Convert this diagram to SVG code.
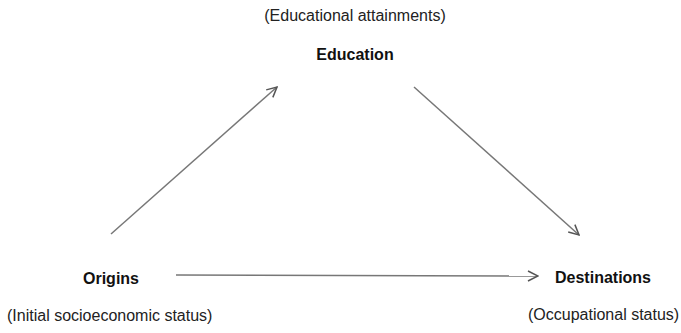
<svg xmlns="http://www.w3.org/2000/svg" width="681" height="333" viewBox="0 0 681 333">
<style>
.t{font-family:"Liberation Sans",Arial,sans-serif;font-size:16px;fill:#222}
.b{font-weight:bold;fill:#111}
.c{stroke:#777;stroke-width:1.5;fill:none}
</style>
<defs>
<marker id="ah" viewBox="0 0 12 12" refX="11" refY="6" markerWidth="12" markerHeight="12" markerUnits="userSpaceOnUse" orient="auto">
<path d="M1,1 L11,6 L1,11" fill="none" stroke="#555" stroke-width="1.5"/>
</marker>
</defs>
<rect width="681" height="333" fill="#fff"/>
<g id="connectors">
<line class="c" x1="111" y1="234" x2="277" y2="87" marker-end="url(#ah)"/>
<line class="c" x1="414" y1="87" x2="579" y2="235" marker-end="url(#ah)"/>
<line class="c" x1="176" y1="275" x2="538" y2="276" marker-end="url(#ah)"/>
</g>
<g id="education">
<text class="t" x="355" y="21" text-anchor="middle">(Educational attainments)</text>
<text class="t b" x="355" y="60" text-anchor="middle">Education</text>
</g>
<g id="origins">
<text class="t b" x="111" y="284" text-anchor="middle">Origins</text>
<text class="t" x="7" y="321">(Initial socioeconomic status)</text>
</g>
<g id="destinations">
<text class="t b" x="555" y="283">Destinations</text>
<text class="t" x="528" y="320">(Occupational status)</text>
</g>
</svg>
